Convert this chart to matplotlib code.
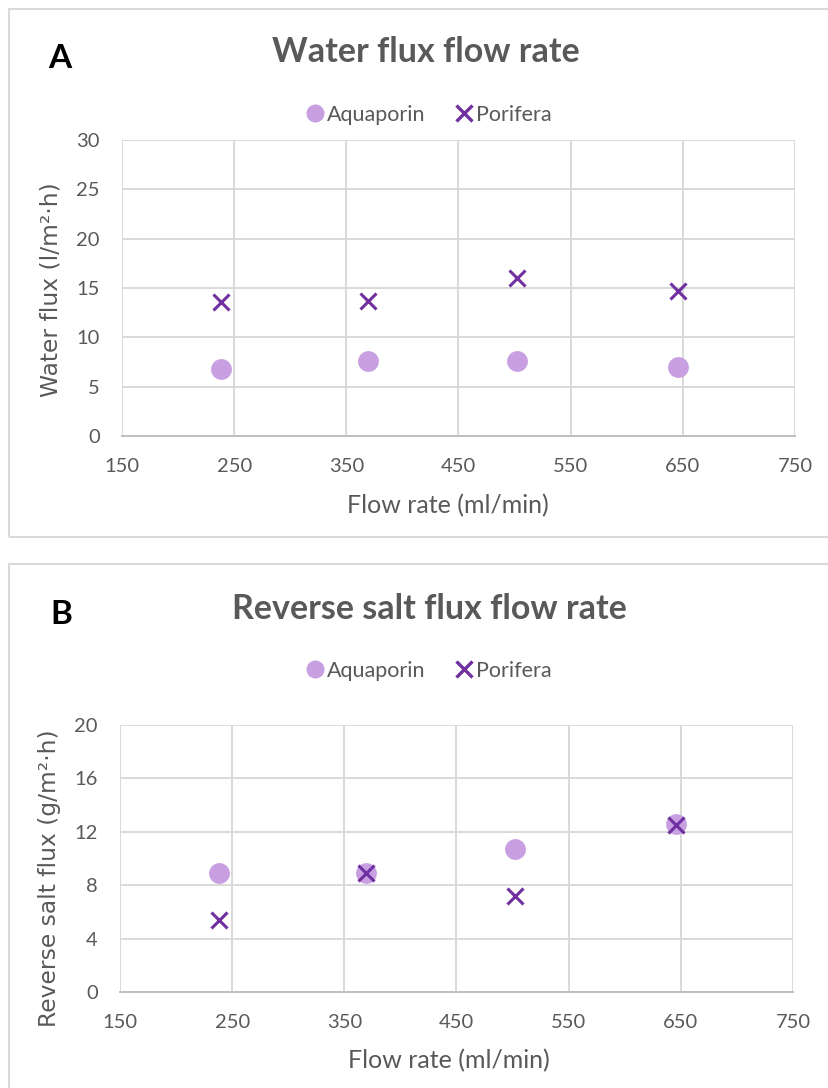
import matplotlib
matplotlib.use("Agg")
import matplotlib.pyplot as plt
from matplotlib.patches import Rectangle
from matplotlib.lines import Line2D

# ---- data ----
flow_rate = [238, 369, 502, 646]
water_aquaporin = [6.8, 7.6, 7.6, 7.0]
water_porifera = [13.6, 13.7, 16.0, 14.7]
salt_aquaporin = [8.9, 8.9, 10.7, 12.6]
salt_porifera = [5.4, 8.9, 7.2, 12.5]

series_names = ["Aquaporin", "Porifera"]
x_ticks = [150, 250, 350, 450, 550, 650, 750]
water_y_ticks = [0, 5, 10, 15, 20, 25, 30]
salt_y_ticks = [0, 4, 8, 12, 16, 20]

# ---- style ----
W, H = 829, 1088
DPI = 100
TEXT = "#595959"
GRID = "#D9D9D9"
AXIS = "#BFBFBF"
LIGHT = "#C8A0E2"
DARK = "#7030A0"
FONT = "Lato"

plt.rcParams["font.family"] = [FONT, "DejaVu Sans"]

fig = plt.figure(figsize=(W / DPI, H / DPI), dpi=DPI)


def px_box(left, top, right, bottom):
    return [left / W, 1 - bottom / H, (right - left) / W, (bottom - top) / H]


def fx(x):
    return x / W


def fy(y):
    return 1 - y / H


def panel(letter, title, ylabel, ys_light, ys_dark, yticks,
          border, plot_box, title_xy, letter_xy, legend_xy,
          ylabel_xy, xlabel_xy):
    # chart frame
    l, t, r, b = border
    fig.patches.append(Rectangle((fx(l), fy(b)), fx(r - l), (b - t) / H,
                                 transform=fig.transFigure, fill=False,
                                 edgecolor=GRID, lw=1.5, zorder=0))
    ax = fig.add_axes(px_box(*plot_box))
    ax.set_xlim(x_ticks[0], x_ticks[-1])
    ax.set_ylim(yticks[0], yticks[-1])
    ax.set_xticks(x_ticks)
    ax.set_yticks(yticks)
    ax.grid(True, color=GRID, lw=1.4, zorder=0)
    for s in ("top", "right", "left"):
        ax.spines[s].set_visible(False)
    ax.spines["bottom"].set_color(AXIS)
    ax.spines["bottom"].set_linewidth(1.4)
    ax.tick_params(length=0, labelsize=14.5, labelcolor=TEXT)
    ax.tick_params(axis="x", pad=16)
    ax.tick_params(axis="y", pad=16)

    ax.plot(flow_rate, ys_light, "o", ms=15, color=LIGHT, mec="none",
            zorder=3, clip_on=False)
    ax.plot(flow_rate, ys_dark, "x", ms=12, mew=2.2, color=DARK,
            zorder=4, clip_on=False)

    # axis titles
    fig.text(fx(xlabel_xy[0]), fy(xlabel_xy[1]),
             "Flow rate (ml/min)", ha="center", va="center",
             fontsize=18, color=TEXT)
    fig.text(fx(ylabel_xy[0]), fy(ylabel_xy[1]), ylabel,
             rotation=90, ha="center", va="center", fontsize=16.8,
             color=TEXT, family=["DejaVu Sans"])

    # chart title and panel letter
    fig.text(fx(title_xy[0]), fy(title_xy[1]), title, ha="center",
             va="center", fontsize=24.5, fontweight="bold", color=TEXT)
    fig.text(fx(letter_xy[0]), fy(letter_xy[1]), letter, ha="center",
             va="center", fontsize=24, fontweight="bold", color="black")

    handles = [
        Line2D([], [], ls="none", marker="o", ms=13, color=LIGHT, mec="none"),
        Line2D([], [], ls="none", marker="x", ms=11, mew=2.4, color=DARK),
    ]
    fig.legend(handles, series_names, loc="center",
               bbox_to_anchor=(fx(legend_xy[0]), fy(legend_xy[1])),
               bbox_transform=fig.transFigure, ncol=2, frameon=False,
               fontsize=15.5, labelcolor=TEXT, handlelength=0.8,
               handletextpad=0.15, columnspacing=1.4, borderpad=0)
    return ax


panel("A", "Water flux flow rate", "Water flux (l/m\u00b2\u00b7h)",
      water_aquaporin, water_porifera, water_y_ticks,
      border=(9.5, 8.5, 860, 537), plot_box=(122, 140, 795, 436),
      title_xy=(426, 52), letter_xy=(60, 58), legend_xy=(429, 115),
      ylabel_xy=(51, 290), xlabel_xy=(448, 506))

panel("B", "Reverse salt flux flow rate", "Reverse salt flux (g/m\u00b2\u00b7h)",
      salt_aquaporin, salt_porifera, salt_y_ticks,
      border=(9.5, 564, 860, 1120), plot_box=(120, 725, 793, 992),
      title_xy=(429, 609), letter_xy=(61, 614), legend_xy=(429, 671),
      ylabel_xy=(50, 878), xlabel_xy=(449, 1061))

fig.savefig("out.png", dpi=DPI)
